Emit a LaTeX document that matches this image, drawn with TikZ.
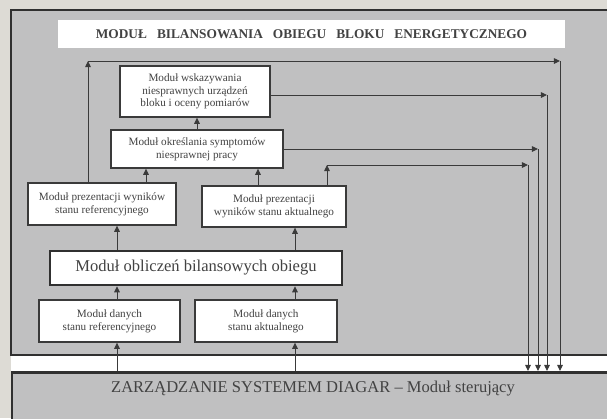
\documentclass[tikz,border=0pt]{standalone}
\usepackage{fontspec}
\setmainfont{Liberation Serif}
\usetikzlibrary{arrows.meta}

\definecolor{tlo}{RGB}{221,219,213}
\definecolor{szary}{RGB}{192,192,193}
\definecolor{ramka}{RGB}{48,48,48}
\definecolor{kreska}{RGB}{58,58,58}
\definecolor{tekst}{RGB}{66,66,66}

\begin{document}
\begin{tikzpicture}[x=0.75pt,y=0.75pt,yscale=-1,xscale=1,
    modul/.style={draw=kreska, fill=white, line width=1pt, text=tekst, align=center, inner sep=0pt, font=\fontsize{8.4}{9.5}\selectfont},
    panel/.style={fill=szary, draw=ramka, line width=2pt},
    polaczenie/.style={draw=kreska, line width=0.7pt, -{Triangle[length=4.6pt,width=4.2pt]}}]
    \useasboundingbox (0,0) rectangle (607,418);
    \clip (0,0) rectangle (607,418);
    \fill[tlo] (0,0) rectangle (607,418);

    % Panels
    \fill[white] (11,355) rectangle (640,372);
    \draw[panel] (11,10) rectangle (640,355);
    \draw[panel] (12,372.5) rectangle (640,440);

    % Title
    \node[fill=white, minimum width=380pt, minimum height=21pt, inner sep=0pt, text=tekst, font=\bfseries\fontsize{10}{11}\selectfont] (tytul) at (311.5,34) {MODUŁ\hspace{0.75em}BILANSOWANIA\hspace{0.75em}OBIEGU\hspace{0.75em}BLOKU\hspace{0.75em}ENERGETYCZNEGO};

    % Modules
    \node[modul, minimum width=112.5pt, minimum height=38.25pt] (wskaz) at (195,91.5) {Moduł wskazywania\\niesprawnych urządzeń\\bloku i oceny pomiarów};
    \node[modul, minimum width=129pt, minimum height=28.5pt] (symptom) at (197,149) {Moduł określania symptomów\\niesprawnej pracy};
    \node[modul, minimum width=111pt, minimum height=31.5pt] (prezref) at (102,204) {Moduł prezentacji wyników\\stanu referencyjnego};
    \node[modul, minimum width=108pt, minimum height=30.75pt] (prezakt) at (274,206.5) {Moduł prezentacji\\wyników stanu aktualnego};
    \node[modul, draw=ramka, line width=1.8pt, minimum width=219pt, minimum height=25.5pt, font=\fontsize{12.4}{14}\selectfont] (oblicz) at (196,268) {Moduł obliczeń bilansowych obiegu};
    \node[modul, minimum width=105.75pt, minimum height=31.5pt] (daneref) at (109.5,321) {Moduł danych\\stanu referencyjnego};
    \node[modul, minimum width=106.5pt, minimum height=31.5pt] (daneakt) at (266,321) {Moduł danych\\stanu aktualnego};

    % Control module
    \coordinate (ster) at (313,371);
    \node[text=tekst, font=\fontsize{12.4}{14}\selectfont] (stertekst) at (313,389) {ZARZĄDZANIE SYSTEMEM DIAGAR -- Moduł sterujący};

    % Columns and corners
    \coordinate (k1) at (117,0);
    \coordinate (k2) at (295,0);
    \coordinate (k3) at (146,0);
    \coordinate (k4) at (258,0);
    \coordinate (k6) at (88,61);
    \coordinate (k7) at (327,165);
    \coordinate (k8) at (0,95);
    \coordinate (r1) at (528,0);
    \coordinate (r2) at (538,0);
    \coordinate (r3) at (547,0);
    \coordinate (r4) at (560,0);

    % Connections upwards
    \draw[polaczenie] (ster -| k1) -- (daneref.south -| k1);
    \draw[polaczenie] (ster -| k2) -- (daneakt.south -| k2);
    \draw[polaczenie] (daneref.north -| k1) -- (oblicz.south -| k1);
    \draw[polaczenie] (daneakt.north -| k2) -- (oblicz.south -| k2);
    \draw[polaczenie] (oblicz.north -| k1) -- (prezref.south -| k1);
    \draw[polaczenie] (oblicz.north -| k2) -- (prezakt.south -| k2);
    \draw[polaczenie] (prezref.north -| k3) -- (symptom.south -| k3);
    \draw[polaczenie] (prezakt.north -| k4) -- (symptom.south -| k4);
    \draw[polaczenie] (symptom.north) -- (wskaz.south -| symptom.north);

    % Connections to the control module
    \draw[polaczenie] (prezref.north -| k6) -- (k6);
    \draw[polaczenie] (k6) -- (k6 -| r4);
    \draw[polaczenie] (k6 -| r4) -- (ster -| r4);
    \draw[polaczenie] (wskaz.east |- k8) -- (k8 -| r3);
    \draw[polaczenie] (k8 -| r3) -- (ster -| r3);
    \draw[polaczenie] (symptom.east) -- (symptom.east -| r2);
    \draw[polaczenie] (symptom.east -| r2) -- (ster -| r2);
    \draw[polaczenie] (prezakt.north -| k7) -- (k7);
    \draw[polaczenie] (k7) -- (k7 -| r1);
    \draw[polaczenie] (k7 -| r1) -- (ster -| r1);
\end{tikzpicture}
\end{document}
